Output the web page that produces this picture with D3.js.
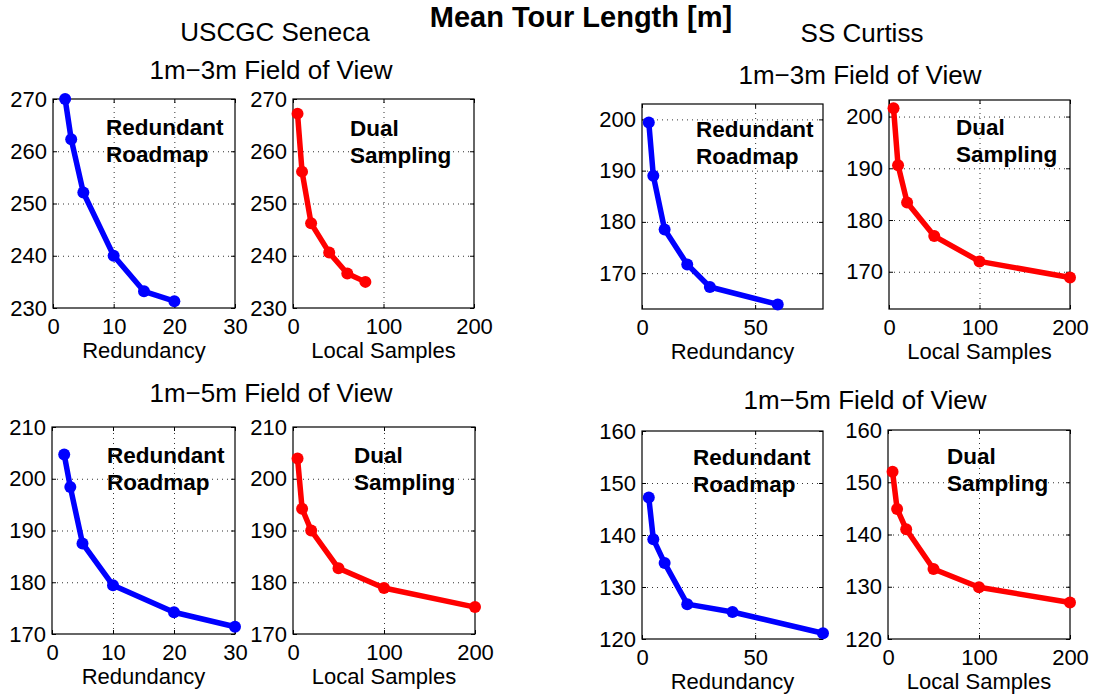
<!DOCTYPE html>
<html>
<head>
<meta charset="utf-8">
<script src="https://cdn.jsdelivr.net/npm/d3@7/dist/d3.min.js"></script>
<style>
  html, body { margin: 0; padding: 0; background: #fff; }
  svg text { font-family: "Liberation Sans", Arial, Helvetica, sans-serif; fill: #000; }
</style>
</head>
<body>
<svg id="chart" width="1094" height="698"></svg>
<script>
// ---- data ----
const senecaRedundancy3 = [2, 3, 5, 10, 15, 20];
const senecaRoadmap3    = [270.0, 262.3, 252.1, 240.0, 233.2, 231.3];
const senecaSamples3    = [5, 10, 20, 40, 60, 80];
const senecaDual3       = [267.2, 256.1, 246.2, 240.6, 236.6, 235.0];

const senecaRedundancy5 = [2, 3, 5, 10, 20, 30];
const senecaRoadmap5    = [204.7, 198.4, 187.5, 179.4, 174.2, 171.4];
const senecaSamples5    = [5, 10, 20, 50, 100, 200];
const senecaDual5       = [203.9, 194.2, 190.0, 182.7, 178.9, 175.2];

const curtissRedundancy3 = [3, 5, 10, 20, 30, 60];
const curtissRoadmap3    = [199.4, 189.0, 178.5, 171.7, 167.3, 163.9];
const curtissSamples3    = [5, 10, 20, 50, 100, 200];
const curtissDual3       = [201.6, 190.6, 183.4, 176.9, 172.0, 168.9];

const curtissRedundancy5 = [3, 5, 10, 20, 40, 80];
const curtissRoadmap5    = [147.2, 139.2, 134.6, 126.7, 125.2, 121.1];
const curtissSamples5    = [5, 10, 20, 50, 100, 200];
const curtissDual5       = [152.0, 144.9, 141.0, 133.4, 129.9, 127.0];

// ---- tick labels ----
const ticksRedundancySeneca  = [0, 10, 20, 30];
const ticksRedundancyCurtiss = [0, 50];
const ticksSamples           = [0, 100, 200];
const ticksSeneca3  = [230, 240, 250, 260, 270];
const ticksSeneca5  = [170, 180, 190, 200, 210];
const ticksCurtiss3 = [170, 180, 190, 200];
const ticksCurtiss5 = [120, 130, 140, 150, 160];

// ---- text ----
const mainTitle = "Mean Tour Length [m]";
const shipTitles = ["USCGC Seneca", "SS Curtiss"];
const fovTitles = ["1m\u22123m Field of View", "1m\u22125m Field of View"];
const xLabelRoadmap = "Redundancy";
const xLabelDual = "Local Samples";
const noteRoadmap = ["Redundant", "Roadmap"];
const noteDual = ["Dual", "Sampling"];

const BLUE = "#0000ff", RED = "#ff0000";
const TICK_FONT = "22px";

// panel layout: box in pixels, domains, series and annotation offset
const panels = [
  { x0: 53,  x1: 235, y0: 99,  y1: 308, xd: [0, 30],  yd: [230, 270], xs: senecaRedundancy3,  ys: senecaRoadmap3,  xt: ticksRedundancySeneca,  yt: ticksSeneca3,  color: BLUE, label: xLabelRoadmap, note: noteRoadmap, nx: 53, ny: 36 },
  { x0: 293, x1: 474, y0: 99,  y1: 308, xd: [0, 200], yd: [230, 270], xs: senecaSamples3,     ys: senecaDual3,     xt: ticksSamples,           yt: ticksSeneca3,  color: RED,  label: xLabelDual,    note: noteDual,    nx: 57, ny: 37 },
  { x0: 642, x1: 823, y0: 104, y1: 309, xd: [0, 80],  yd: [163, 203], xs: curtissRedundancy3, ys: curtissRoadmap3, xt: ticksRedundancyCurtiss, yt: ticksCurtiss3, color: BLUE, label: xLabelRoadmap, note: noteRoadmap, nx: 54, ny: 33 },
  { x0: 889, x1: 1070,y0: 100, y1: 309, xd: [0, 200], yd: [162.8, 203.2], xs: curtissSamples3, ys: curtissDual3,  xt: ticksSamples,           yt: ticksCurtiss3, color: RED,  label: xLabelDual,    note: noteDual,    nx: 67, ny: 35 },
  { x0: 52,  x1: 235, y0: 427, y1: 634, xd: [0, 30],  yd: [170, 210], xs: senecaRedundancy5,  ys: senecaRoadmap5,  xt: ticksRedundancySeneca,  yt: ticksSeneca5,  color: BLUE, label: xLabelRoadmap, note: noteRoadmap, nx: 55, ny: 36 },
  { x0: 293, x1: 475, y0: 427, y1: 634, xd: [0, 200], yd: [170, 210], xs: senecaSamples5,     ys: senecaDual5,     xt: ticksSamples,           yt: ticksSeneca5,  color: RED,  label: xLabelDual,    note: noteDual,    nx: 61, ny: 36 },
  { x0: 642, x1: 823, y0: 431, y1: 639, xd: [0, 80],  yd: [120, 160], xs: curtissRedundancy5, ys: curtissRoadmap5, xt: ticksRedundancyCurtiss, yt: ticksCurtiss5, color: BLUE, label: xLabelRoadmap, note: noteRoadmap, nx: 51, ny: 34 },
  { x0: 888, x1: 1070,y0: 430, y1: 639, xd: [0, 200], yd: [120, 160], xs: curtissSamples5,    ys: curtissDual5,    xt: ticksSamples,           yt: ticksCurtiss5, color: RED,  label: xLabelDual,    note: noteDual,    nx: 59, ny: 34 }
];

const svg = d3.select("#chart");

// titles
svg.append("text").attr("x", 581).attr("y", 27).attr("text-anchor", "middle")
  .style("font-size", "29px").style("font-weight", "bold").text(mainTitle);
const titleRows = [
  [275, 41, shipTitles[0]], [862, 42, shipTitles[1]],
  [271, 79, fovTitles[0]],  [860, 84, fovTitles[0]],
  [271, 402, fovTitles[1]], [865, 409, fovTitles[1]]
];
titleRows.forEach(([tx, ty, s]) => {
  svg.append("text").attr("x", tx).attr("y", ty).attr("text-anchor", "middle")
    .style("font-size", "26px").text(s);
});

panels.forEach(p => {
  const x = d3.scaleLinear().domain(p.xd).range([p.x0, p.x1]);
  const y = d3.scaleLinear().domain(p.yd).range([p.y1, p.y0]);
  const g = svg.append("g");
  const w = p.x1 - p.x0, h = p.y1 - p.y0;

  // dotted grid
  const gx = g.append("g").attr("transform", `translate(0,${p.y1})`)
    .call(d3.axisBottom(x).tickValues(p.xt.filter(v => v > p.xd[0] && v < p.xd[1])).tickSize(-h).tickFormat(""));
  const gy = g.append("g").attr("transform", `translate(${p.x0},0)`)
    .call(d3.axisLeft(y).tickValues(p.yt.filter(v => v > p.yd[0] && v < p.yd[1])).tickSize(-w).tickFormat(""));
  [gx, gy].forEach(a => {
    a.select(".domain").remove();
    a.selectAll("line").attr("stroke", "#333").attr("stroke-width", 1).attr("stroke-dasharray", "1,4");
  });

  // inward tick marks on all four sides, with labels on bottom and left
  const tl = 4;
  const bottom = g.append("g").attr("transform", `translate(0,${p.y1})`)
    .call(d3.axisBottom(x).tickValues(p.xt).tickSize(-tl).tickPadding(10));
  const top = g.append("g").attr("transform", `translate(0,${p.y0})`)
    .call(d3.axisTop(x).tickValues(p.xt).tickSize(-tl).tickFormat(""));
  const left = g.append("g").attr("transform", `translate(${p.x0},0)`)
    .call(d3.axisLeft(y).tickValues(p.yt).tickSize(-tl).tickPadding(6));
  const right = g.append("g").attr("transform", `translate(${p.x1},0)`)
    .call(d3.axisRight(y).tickValues(p.yt).tickSize(-tl).tickFormat(""));
  [bottom, top, left, right].forEach(a => {
    a.select(".domain").remove();
    a.selectAll("line").attr("stroke", "#000");
    a.selectAll("text").style("font-size", TICK_FONT).attr("fill", "#000")
      .style("font-family", "'Liberation Sans', Arial, Helvetica, sans-serif");
  });
  bottom.selectAll("text").attr("dy", "0.71em");

  // axes box
  g.append("rect").attr("x", p.x0).attr("y", p.y0).attr("width", w).attr("height", h)
    .attr("fill", "none").attr("stroke", "#000").attr("stroke-width", 1.2);

  // x label
  g.append("text").attr("x", (p.x0 + p.x1) / 2).attr("y", p.y1 + 50)
    .attr("text-anchor", "middle").style("font-size", TICK_FONT).text(p.label);

  // series
  const pts = p.xs.map((v, i) => [v, p.ys[i]]);
  g.append("path").datum(pts)
    .attr("d", d3.line().x(d => x(d[0])).y(d => y(d[1])))
    .attr("fill", "none").attr("stroke", p.color).attr("stroke-width", 5.5)
    .attr("stroke-linejoin", "round");
  g.selectAll("circle.pt").data(pts).join("circle").attr("class", "pt")
    .attr("cx", d => x(d[0])).attr("cy", d => y(d[1])).attr("r", 6)
    .attr("fill", p.color);

  // annotation
  p.note.forEach((line, i) => {
    g.append("text").attr("x", p.x0 + p.nx).attr("y", p.y0 + p.ny + i * 27)
      .style("font-size", "22.5px").style("font-weight", "bold").text(line);
  });
});
</script>
</body>
</html>
